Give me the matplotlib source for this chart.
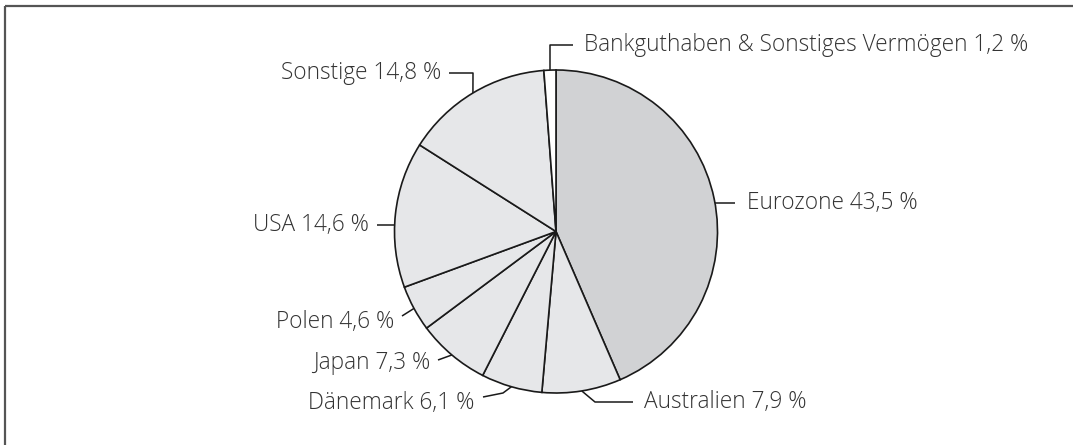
import matplotlib
matplotlib.use("Agg")
import matplotlib.pyplot as plt
import numpy as np

labels = ["Eurozone", "Australien", "Dänemark", "Japan", "Polen", "USA", "Sonstige",
          "Bankguthaben & Sonstiges Vermögen"]
values = [43.5, 7.9, 6.1, 7.3, 4.6, 14.6, 14.8, 1.2]
value_texts = ["43,5 %", "7,9 %", "6,1 %", "7,3 %", "4,6 %", "14,6 %", "14,8 %", "1,2 %"]
colors = ["#d1d2d4", "#e6e7e9", "#e6e7e9", "#e6e7e9", "#e6e7e9", "#e6e7e9", "#e6e7e9", "#ffffff"]

W, H = 1073, 445
fig = plt.figure(figsize=(W / 100, H / 100), dpi=100)
ax = fig.add_axes([0, 0, 1, 1])

cx, cy, r = 556, 231.5, 161.5
wedges, _ = ax.pie(values, colors=colors, startangle=-90, counterclock=True,
                   center=(cx, cy), radius=r,
                   wedgeprops=dict(edgecolor="#1a1a1a", linewidth=1.2))
ax.set_xlim(0, W)
ax.set_ylim(H, 0)
ax.set_aspect("equal")
ax.axis("off")

# layout: angle offset (deg), elbow point, line end, text pos, alignment
layout = [
    dict(off=1.5, elbow=None, end=(735, None), text=(747, None), ha="left"),
    dict(off=0, elbow=(595, 402), end=(633, 402), text=(644, 402), ha="left"),
    dict(off=0, elbow=(503, 393), end=(483, 397), text=(474, 403), ha="right"),
    dict(off=0, elbow=None, end=(438, 360), text=(430, 363), ha="right"),
    dict(off=0, elbow=None, end=(402, 316), text=(394, 322), ha="right"),
    dict(off=-3.8, elbow=None, end=(377, None), text=(369, None), ha="right"),
    dict(off=0, elbow=(473, 73), end=(449, 73), text=(441, 73), ha="right"),
    dict(off=0, elbow=(None, 45), end=(573, 45), text=(584, 45), ha="left"),
]

font = dict(family=["Open Sans", "DejaVu Sans"], fontweight="light", fontsize=16.3,
            color="#333333")

for w, lab, vt, L in zip(wedges, labels, value_texts, layout):
    th = np.deg2rad((w.theta1 + w.theta2) / 2 + L["off"])
    ax_, ay_ = cx + r * np.cos(th), cy + r * np.sin(th)
    pts = [(ax_, ay_)]
    if L["elbow"] is not None:
        ex, ey = L["elbow"]
        pts.append((ex if ex is not None else ax_, ey if ey is not None else ay_))
    lx, ly = L["end"]
    last = pts[-1]
    pts.append((lx if lx is not None else last[0], ly if ly is not None else last[1]))
    xs, ys = zip(*pts)
    ax.plot(xs, ys, color="#1a1a1a", linewidth=1.1, solid_capstyle="butt")
    tx, ty = L["text"]
    ty = ty if ty is not None else ay_
    ax.text(tx, ty, f"{lab} {vt}", ha=L["ha"], va="center", **font)

# frame lines (top and left)
ax.plot([5, W], [6, 6], color="#555555", linewidth=1.6, solid_capstyle="butt")
ax.plot([5, 5], [6, H], color="#555555", linewidth=1.6, solid_capstyle="butt")

fig.savefig("out.png", dpi=100)
